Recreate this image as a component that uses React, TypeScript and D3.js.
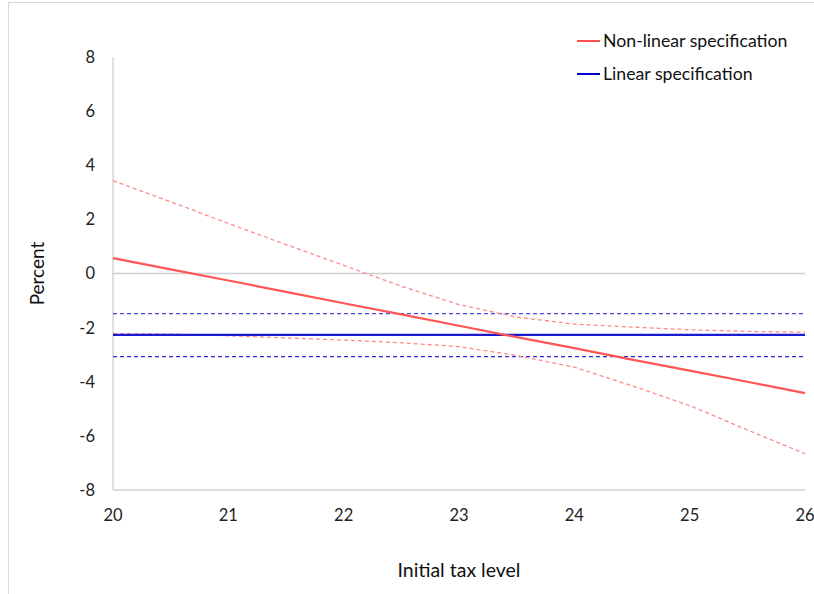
import React from "react"
import * as d3 from "d3"

// initial tax level (x) and estimated effects in percent
const taxLevels = [20, 20.5, 21, 21.5, 22, 22.5, 23, 23.5, 24, 24.5, 25, 25.5, 26]
const nonLinear = [0.57, 0.15, -0.26, -0.68, -1.1, -1.51, -1.93, -2.35, -2.76, -3.18, -3.59, -4.0, -4.42]
const nonLinearUpper = [3.43, 2.65, 1.85, 1.07, 0.3, -0.47, -1.15, -1.61, -1.87, -1.98, -2.08, -2.14, -2.17]
const nonLinearLower = [-2.22, -2.24, -2.3, -2.38, -2.46, -2.56, -2.7, -3.03, -3.46, -4.15, -4.88, -5.78, -6.66]
const linear = [-2.27, -2.27, -2.27, -2.27, -2.27, -2.27, -2.27, -2.27, -2.27, -2.27, -2.27, -2.27, -2.27]
const linearUpper = [-1.48, -1.48, -1.48, -1.48, -1.48, -1.48, -1.48, -1.48, -1.48, -1.48, -1.48, -1.48, -1.48]
const linearLower = [-3.07, -3.07, -3.07, -3.07, -3.07, -3.07, -3.07, -3.07, -3.07, -3.07, -3.07, -3.07, -3.07]

const xTicks = [20, 21, 22, 23, 24, 25, 26]
const yTicks = [-8, -6, -4, -2, 0, 2, 4, 6, 8]

const legendItems = [
  { label: "Non-linear specification", color: "#ff5050" },
  { label: "Linear specification", color: "#0000cc" },
]

const W = 814
const H = 594
const margin = { top: 57, right: 9, bottom: 104, left: 113 }
const font = "Lato, 'Open Sans', sans-serif"

const App: React.FC = () => {
  const x = d3.scaleLinear().domain([20, 26]).range([margin.left, W - margin.right])
  const y = d3.scaleLinear().domain([-8, 8]).range([H - margin.bottom, margin.top])

  const line = (vals: number[]) =>
    d3.line<number>()
      .x((d, i) => x(taxLevels[i]))
      .y(d => y(d))(vals) || ""

  const series = [
    { vals: linearUpper, color: "#4a4ae6", width: 1.3, dash: "4,3" },
    { vals: linearLower, color: "#2a2ae0", width: 1.3, dash: "4,3" },
    { vals: nonLinearUpper, color: "#ff8a8a", width: 1.3, dash: "4,3" },
    { vals: nonLinearLower, color: "#ff8a8a", width: 1.3, dash: "4,3" },
    { vals: linear, color: "#1a1ad0", width: 2.2, dash: undefined },
    { vals: nonLinear, color: "#ff5555", width: 2.2, dash: undefined },
  ]

  return (
    <svg width={W} height={H} style={{ position: "absolute", left: 0, top: 0, background: "#fff" }}>
      <rect x={8.5} y={2.5} width={W} height={H} fill="none" stroke="#d9d9d9" />

      {/* axes */}
      <line x1={x(20)} x2={x(20)} y1={y(8)} y2={y(-8)} stroke="#d0d0d0" strokeWidth={1.3} />
      <line x1={x(20)} x2={x(26)} y1={y(-8)} y2={y(-8)} stroke="#d0d0d0" strokeWidth={1.3} />
      <line x1={x(20)} x2={x(26)} y1={y(0)} y2={y(0)} stroke="#d0d0d0" strokeWidth={1.3} />

      {yTicks.map(t => (
        <text key={t} x={95} y={y(t)} dy="0.36em" textAnchor="end" fontFamily={font} fontSize={16.5} fill="#222">
          {t}
        </text>
      ))}
      {xTicks.map(t => (
        <text key={t} x={x(t)} y={521} textAnchor="middle" fontFamily={font} fontSize={16.5} fill="#222">
          {t}
        </text>
      ))}

      <text transform={`translate(44,${y(0)}) rotate(-90)`} textAnchor="middle" fontFamily={font} fontSize={19} fill="#111">
        Percent
      </text>
      <text x={459} y={577} textAnchor="middle" fontFamily={font} fontSize={19.5} fill="#111">
        Initial tax level
      </text>

      {series.map((s, i) => (
        <path key={i} d={line(s.vals)} fill="none" stroke={s.color} strokeWidth={s.width} strokeDasharray={s.dash} />
      ))}

      {legendItems.map((it, i) => (
        <g key={it.label} transform={`translate(577,${41 + i * 33})`}>
          <line x1={0} x2={23} y1={0} y2={0} stroke={it.color} strokeWidth={2} />
          <text x={26} y={0} dy="0.36em" fontFamily={font} fontSize={17.7} fill="#111">
            {it.label}
          </text>
        </g>
      ))}
    </svg>
  )
}

export default App
